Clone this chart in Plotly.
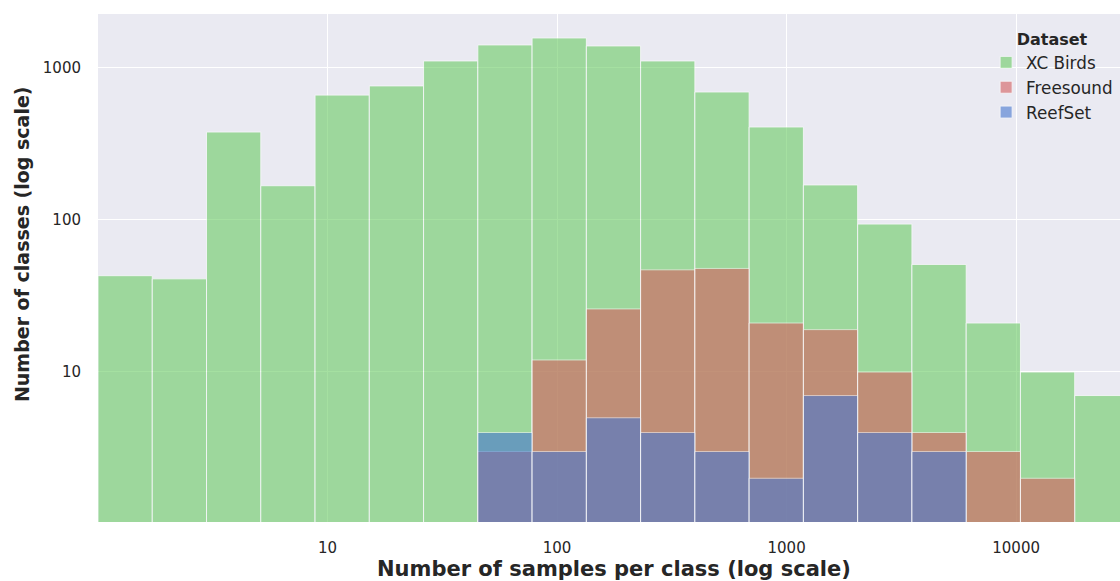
import math
import plotly.graph_objects as go

# ---- data ----
datasets = ["XC Birds", "Freesound", "ReefSet"]
xc_birds = [43, 41, 379, 168, 663, 762, 1112, 1417, 1575, 1396, 1112, 695, 409, 170, 94, 51, 21, 10, 7]
freesound = [0, 0, 0, 0, 0, 0, 0, 3, 12, 26, 47, 48, 21, 19, 10, 4, 3, 2, 0]
reefset = [0, 0, 0, 0, 0, 0, 0, 4, 3, 5, 4, 3, 2, 7, 4, 3, 0, 0, 0]
x_tick_vals = [10, 100, 1000, 10000]
x_tick_text = ["10", "100", "1000", "10000"]
y_tick_vals = [10, 100, 1000]
y_tick_text = ["10", "100", "1000"]

# histogram bins (log10 space): start and width
BIN_LOG_START = 0.0
BIN_LOG_WIDTH = 0.2364

n_bins = len(xc_birds)
centers = [BIN_LOG_START + (i + 0.5) * BIN_LOG_WIDTH for i in range(n_bins)]

colors = {"XC Birds": "#6acc64", "Freesound": "#d65f5f", "ReefSet": "#4878d0"}
series = {"XC Birds": xc_birds, "Freesound": freesound, "ReefSet": reefset}

FONT = "DejaVu Sans"
TXT = "#262626"

fig = go.Figure()
for name in datasets:
    vals = [v if v > 0 else None for v in series[name]]
    fig.add_trace(go.Bar(
        x=centers, y=vals, width=BIN_LOG_WIDTH, name=name,
        marker=dict(color=colors[name], line=dict(color="rgba(255,255,255,0.85)", width=1)),
        opacity=0.6,
    ))

fig.update_layout(
    width=1120, height=581,
    barmode="overlay",
    paper_bgcolor="white",
    plot_bgcolor="#eaeaf2",
    margin=dict(l=98, r=0, t=14, b=59),
    font=dict(family=FONT, color=TXT, size=15),
    showlegend=True,
    legend=dict(
        x=0.869, xanchor="left", y=0.98, yanchor="top",
        bgcolor="rgba(0,0,0,0)",
        font=dict(size=16.8, family=FONT, color=TXT),
        title=dict(text="Dataset", side="top center",
                   font=dict(size=16, family=FONT, color=TXT, weight="bold")),
        tracegroupgap=0,
    ),
    xaxis=dict(
        type="linear",
        range=[0.0, 4.4525],
        tickvals=[math.log10(v) for v in x_tick_vals],
        ticktext=x_tick_text,
        showgrid=True, gridcolor="white", gridwidth=1.3,
        zeroline=False, showline=False,
        ticks="outside", ticklen=12, tickcolor="rgba(0,0,0,0)",
        tickfont=dict(size=15, family=FONT, color=TXT),
    ),
    yaxis=dict(
        type="log",
        range=[0.0132, 3.355],
        tickvals=y_tick_vals,
        ticktext=y_tick_text,
        showgrid=True, gridcolor="white", gridwidth=1.3,
        zeroline=False, showline=False,
        ticks="outside", ticklen=13, tickcolor="rgba(0,0,0,0)",
        tickfont=dict(size=15, family=FONT, color=TXT),
    ),
    annotations=[
        dict(text="<b>Number of samples per class (log scale)</b>",
             xref="paper", yref="paper", x=0.505, y=-0.092,
             xanchor="center", yanchor="middle", showarrow=False,
             font=dict(size=21, family=FONT, color=TXT)),
        dict(text="<b>Number of classes (log scale)</b>",
             xref="paper", yref="paper", x=-0.0744, y=0.547,
             xanchor="center", yanchor="middle", textangle=-90, showarrow=False,
             font=dict(size=19, family=FONT, color=TXT)),
    ],
)

fig.write_html(
    "out.html",
    config={"displayModeBar": False},
    post_script="document.body.style.margin='0';document.body.style.overflow='hidden';",
)
